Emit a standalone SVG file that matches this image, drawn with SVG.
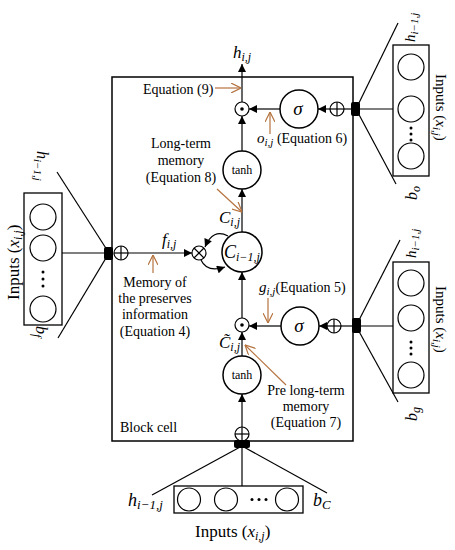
<svg xmlns="http://www.w3.org/2000/svg" width="455" height="550" viewBox="0 0 455 550" font-family="'Liberation Serif', 'Times New Roman', serif">
<defs>
<style>
text{font-family:"Liberation Serif","Times New Roman",serif;fill:#000;}
.t{font-size:14px;font-style:normal;}
.m{font-size:17px;font-style:italic;}
.s{font-size:12px;font-style:italic;}
.ln{stroke:#000;stroke-width:1.2;fill:none;}
.ar{stroke:#000;stroke-width:1.2;fill:none;marker-end:url(#ah);}
.or{stroke:#b5733f;stroke-width:1.2;fill:none;marker-end:url(#oh);}
.nd{stroke:#000;stroke-width:1.5;fill:#fff;}
.op{stroke:#000;stroke-width:1.2;fill:#fff;}
</style>
<marker id="ah" viewBox="0 0 10 10" refX="10" refY="5" markerWidth="9" markerHeight="8" orient="auto" markerUnits="userSpaceOnUse">
<path d="M0,0 L10,5 L0,10 z" fill="#000"/>
</marker>
<marker id="oh" viewBox="0 0 10 10" refX="10" refY="5" markerWidth="10" markerHeight="10" orient="auto" markerUnits="userSpaceOnUse">
<path d="M0,0 L10,5 L0,10" fill="none" stroke="#b5733f" stroke-width="1.2"/>
</marker>
</defs>
<rect width="455" height="550" fill="#fff"/>

<g id="cell">
<rect x="112" y="77" width="241" height="364" fill="none" stroke="#000" stroke-width="1.5"/>
<text class="t" x="120" y="432">Block cell</text>
</g>

<g id="connectors">
<line class="ar" x1="242" y1="427" x2="242" y2="394"/>
<line class="ar" x1="242" y1="356" x2="242" y2="332"/>
<line class="ar" x1="242" y1="318" x2="242" y2="272"/>
<line class="ar" x1="242" y1="232" x2="242" y2="189"/>
<line class="ar" x1="242" y1="151" x2="242" y2="116"/>
<line class="ar" x1="242" y1="102" x2="242" y2="64"/>
<line class="ln" x1="351" y1="109" x2="344" y2="109"/>
<line class="ar" x1="330" y1="109" x2="318" y2="109"/>
<line class="ar" x1="280" y1="109" x2="249" y2="109"/>
<line class="ln" x1="352" y1="326" x2="341" y2="326"/>
<line class="ar" x1="327" y1="326" x2="319" y2="326"/>
<line class="ar" x1="281" y1="326" x2="249" y2="326"/>
<line class="ar" x1="128" y1="253" x2="192" y2="253"/>
<path class="ar" d="M228,236 Q213,228 205,247"/>
<path class="ar" d="M201,260 Q207,273 225,267"/>
<line class="ln" x1="109" y1="253" x2="62" y2="253"/>
<line class="ln" x1="109" y1="253" x2="57" y2="172"/>
<line class="ln" x1="109" y1="253" x2="58" y2="338"/>
<line class="ln" x1="356" y1="109" x2="393" y2="109"/>
<line class="ln" x1="356" y1="109" x2="398" y2="23"/>
<line class="ln" x1="356" y1="109" x2="396" y2="184"/>
<line class="ln" x1="356" y1="326" x2="393" y2="326"/>
<line class="ln" x1="356" y1="326" x2="400" y2="240"/>
<line class="ln" x1="356" y1="326" x2="398" y2="402"/>
<line class="ln" x1="242" y1="446" x2="152" y2="495"/>
<line class="ln" x1="242" y1="446" x2="242" y2="486"/>
<line class="ln" x1="242" y1="446" x2="327" y2="493"/>
<line class="or" x1="215" y1="88" x2="241" y2="88"/>
<line class="or" x1="270" y1="134" x2="270" y2="112"/>
<line class="or" x1="217" y1="189" x2="242" y2="212"/>
<line class="or" x1="153" y1="273" x2="153" y2="255"/>
<line class="or" x1="268" y1="298" x2="268" y2="323"/>
<line class="or" x1="286" y1="385" x2="245" y2="345"/>
</g>

<g id="out-mul">
<circle class="op" cx="242" cy="109" r="7"/>
<circle cx="242" cy="109" r="1.8" fill="#000"/>
</g>
<g id="out-sigma">
<circle class="nd" cx="299" cy="109" r="19"/>
<text class="m" style="font-size:19px" x="298" y="115" text-anchor="middle">σ</text>
</g>
<g id="out-sum">
<circle class="op" cx="337" cy="109" r="7"/>
<line class="ln" x1="330" y1="109" x2="344" y2="109"/>
<line class="ln" x1="337" y1="102" x2="337" y2="116"/>
</g>
<g id="out-blob"><rect x="351" y="102" width="9" height="14" rx="2" fill="#000"/></g>

<g id="tanh-top">
<circle class="nd" cx="242" cy="170" r="19"/>
<text class="t" style="font-size:12px" x="242" y="174" text-anchor="middle">tanh</text>
</g>
<g id="cell-state">
<circle class="nd" cx="242" cy="252" r="20"/>
<text x="224" y="258"><tspan class="m" style="font-size:18px">C</tspan><tspan class="s" dy="3">i−1,j</tspan></text>
</g>
<g id="forget-mul">
<circle class="op" cx="199" cy="253" r="7"/>
<line class="ln" x1="194" y1="248" x2="204" y2="258"/>
<line class="ln" x1="204" y1="248" x2="194" y2="258"/>
</g>
<g id="forget-sum">
<circle class="op" cx="121" cy="253" r="7"/>
<line class="ln" x1="114" y1="253" x2="128" y2="253"/>
<line class="ln" x1="121" y1="246" x2="121" y2="260"/>
</g>
<g id="forget-blob"><rect x="104" y="247" width="9" height="13" rx="2" fill="#000"/></g>

<g id="in-mul">
<circle class="op" cx="242" cy="325" r="7"/>
<circle cx="242" cy="325" r="1.8" fill="#000"/>
</g>
<g id="in-sigma">
<circle class="nd" cx="300" cy="326" r="19"/>
<text class="m" style="font-size:19px" x="299" y="332" text-anchor="middle">σ</text>
</g>
<g id="in-sum">
<circle class="op" cx="334" cy="326" r="7"/>
<line class="ln" x1="327" y1="326" x2="341" y2="326"/>
<line class="ln" x1="334" y1="319" x2="334" y2="333"/>
</g>
<g id="in-blob"><rect x="352" y="318" width="9" height="15" rx="2" fill="#000"/></g>

<g id="tanh-bottom">
<circle class="nd" cx="242" cy="375" r="19"/>
<text class="t" style="font-size:12px" x="242" y="379" text-anchor="middle">tanh</text>
</g>
<g id="bottom-sum">
<circle class="op" cx="242" cy="434" r="7"/>
<line class="ln" x1="235" y1="434" x2="249" y2="434"/>
<line class="ln" x1="242" y1="427" x2="242" y2="441"/>
</g>
<g id="bottom-blob"><rect x="234" y="440" width="16" height="8" rx="2" fill="#000"/></g>

<g id="input-left">
<rect x="24" y="193" width="38" height="132" fill="#fff" stroke="#000" stroke-width="1.3"/>
<circle class="op" cx="43" cy="217" r="13"/>
<circle class="op" cx="43" cy="248" r="13"/>
<circle cx="43" cy="272" r="1.5"/><circle cx="43" cy="279" r="1.5"/><circle cx="43" cy="286" r="1.5"/>
<circle class="op" cx="43" cy="309" r="13"/>
<text transform="translate(37,151) rotate(90)"><tspan class="m" style="font-size:16px">h</tspan><tspan class="s" style="font-size:11px" dy="3">i−1,j</tspan></text>
<text transform="translate(36,326) rotate(90)"><tspan class="m" style="font-size:16px">b</tspan><tspan class="s" dy="3">f</tspan></text>
<text transform="translate(19,300) rotate(-90)"><tspan class="t" style="font-size:17px">Inputs (</tspan><tspan class="m">x</tspan><tspan class="s" dy="3">i,j</tspan><tspan class="t" style="font-size:17px" dy="-3">)</tspan></text>
</g>

<g id="input-top-right">
<rect x="393" y="45" width="36" height="131" fill="#fff" stroke="#000" stroke-width="1.3"/>
<circle class="op" cx="411" cy="67" r="13"/>
<circle class="op" cx="411" cy="109" r="13"/>
<circle cx="411" cy="128" r="1.5"/><circle cx="411" cy="134" r="1.5"/><circle cx="411" cy="140" r="1.5"/>
<circle class="op" cx="411" cy="156" r="13"/>
<text transform="translate(415,42) rotate(-90)"><tspan class="m" style="font-size:15px">h</tspan><tspan class="s" style="font-size:11px" dy="3">i−1,j</tspan></text>
<text transform="translate(417,200) rotate(-90)"><tspan class="m" style="font-size:16px">b</tspan><tspan class="s" dy="3">o</tspan></text>
<text transform="translate(436,74) rotate(90)"><tspan class="t" style="font-size:15px">Inputs (</tspan><tspan class="m" style="font-size:15px">x</tspan><tspan class="s" style="font-size:11px" dy="3">i,j</tspan><tspan class="t" style="font-size:15px" dy="-3">)</tspan></text>
</g>

<g id="input-mid-right">
<rect x="393" y="262" width="36" height="131" fill="#fff" stroke="#000" stroke-width="1.3"/>
<circle class="op" cx="411" cy="283" r="13"/>
<circle class="op" cx="411" cy="318" r="13"/>
<circle cx="411" cy="342" r="1.5"/><circle cx="411" cy="348" r="1.5"/><circle cx="411" cy="354" r="1.5"/>
<circle class="op" cx="411" cy="375" r="13"/>
<text transform="translate(416,258) rotate(-90)"><tspan class="m" style="font-size:15px">h</tspan><tspan class="s" style="font-size:11px" dy="3">i−1,j</tspan></text>
<text transform="translate(417,421) rotate(-90)"><tspan class="m" style="font-size:16px">b</tspan><tspan class="s" dy="3">g</tspan></text>
<text transform="translate(436,286) rotate(90)"><tspan class="t" style="font-size:15px">Inputs (</tspan><tspan class="m" style="font-size:15px">x</tspan><tspan class="s" style="font-size:11px" dy="3">i,j</tspan><tspan class="t" style="font-size:15px" dy="-3">)</tspan></text>
</g>

<g id="input-bottom">
<rect x="174" y="486" width="129" height="27" fill="#fff" stroke="#000" stroke-width="1.3"/>
<circle class="op" cx="189" cy="499.5" r="11.5"/>
<circle class="op" cx="226" cy="499.5" r="11.5"/>
<circle cx="252" cy="499.5" r="1.5"/><circle cx="259" cy="499.5" r="1.5"/><circle cx="266" cy="499.5" r="1.5"/>
<circle class="op" cx="287" cy="499.5" r="11.5"/>
<text x="128" y="506"><tspan class="m" style="font-size:18px">h</tspan><tspan class="s" style="font-size:13px" dy="3">i−1,j</tspan></text>
<text x="313" y="506"><tspan class="m" style="font-size:18px">b</tspan><tspan class="s" style="font-size:13px" dy="3">C</tspan></text>
<text x="195" y="537"><tspan class="t" style="font-size:17px">Inputs (</tspan><tspan class="m">x</tspan><tspan class="s" dy="3">i,j</tspan><tspan class="t" style="font-size:17px" dy="-3">)</tspan></text>
</g>

<g id="labels">
<text x="233" y="58"><tspan class="m">h</tspan><tspan class="s" dy="3">i,j</tspan></text>
<text class="t" x="143" y="94">Equation (9)</text>
<text x="257" y="143"><tspan class="m" style="font-size:15px">o</tspan><tspan class="s" style="font-size:11px" dy="3">i,j</tspan><tspan class="t" dy="-3"> (Equation 6)</tspan></text>
<text class="t" text-anchor="middle" x="181" y="148">Long-term</text>
<text class="t" text-anchor="middle" x="181" y="165">memory</text>
<text class="t" text-anchor="middle" x="181" y="182">(Equation 8)</text>
<text x="219" y="223"><tspan class="m">C</tspan><tspan class="s" dy="3">i,j</tspan></text>
<text x="162" y="245"><tspan class="m">f</tspan><tspan class="s" dy="3">i,j</tspan></text>
<text class="t" text-anchor="middle" x="155" y="287">Memory of</text>
<text class="t" text-anchor="middle" x="155" y="303">the preserves</text>
<text class="t" text-anchor="middle" x="155" y="319">information</text>
<text class="t" text-anchor="middle" x="155" y="336">(Equation 4)</text>
<text x="259" y="292"><tspan class="m" style="font-size:15px">g</tspan><tspan class="s" style="font-size:11px" dy="3">i,j</tspan><tspan class="t" dy="-3">(Equation 5)</tspan></text>
<text x="219" y="348"><tspan class="m">C̃</tspan><tspan class="s" dy="3">i,j</tspan></text>
<text class="t" text-anchor="middle" x="306" y="395">Pre long-term</text>
<text class="t" text-anchor="middle" x="306" y="411">memory</text>
<text class="t" text-anchor="middle" x="306" y="427">(Equation 7)</text>
</g>
</svg>
